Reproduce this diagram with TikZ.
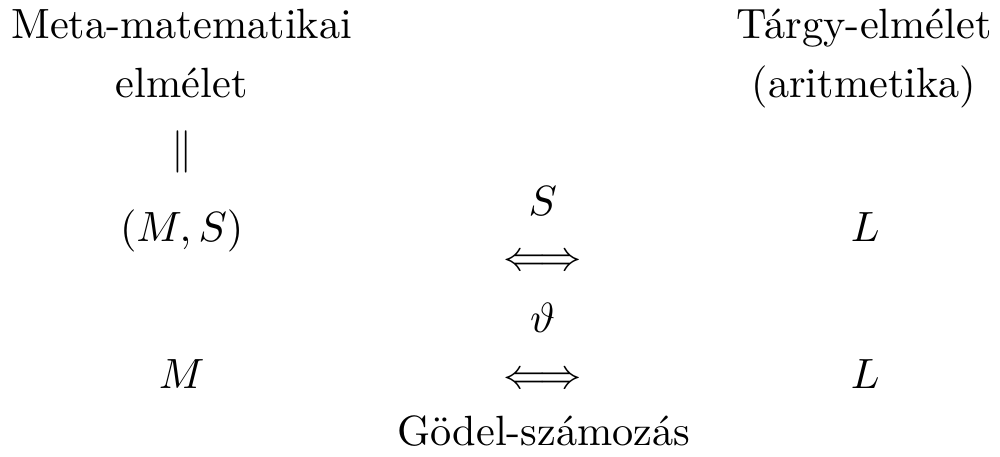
\documentclass[tikz,border=0pt]{standalone}
\tikzset{etq/.style={anchor=base, inner sep=0pt}}

\begin{document}
\begin{tikzpicture}
  \useasboundingbox (0,0) rectangle (8.31,3.79);
  % bal oszlop
  \node[etq] (meta)  at (1.51,3.47)  {Meta-matematikai};
  \node[etq] (elm)   at (1.51,2.98)  {elmélet};
  \node[etq] (egyen) at (1.51,2.44)  {$\|$};
  \node[etq] (ms)    at (1.51,1.78)  {$(M,S)$};
  \node[etq] (m)     at (1.51,0.565) {$M$};
  % jobb oszlop
  \node[etq] (targy) at (7.18,3.47)  {Tárgy-elmélet};
  \node[etq] (arit)  at (7.18,2.98)  {(aritmetika)};
  \node[etq] (l1)    at (7.19,1.78)  {$L$};
  \node[etq] (l2)    at (7.19,0.565) {$L$};
  % kozepso oszlop
  \node[etq] (s)     at (4.51,2.00)  {$S$};
  \node[etq] (nyil1) at (4.51,1.54)  {$\Longleftrightarrow$};
  \node[etq] (theta) at (4.51,1.03)  {$\vartheta$};
  \node[etq] (nyil2) at (4.51,0.565) {$\Longleftrightarrow$};
  \node[etq] (godel) at (4.52,0.09)  {Gödel-számozás};
\end{tikzpicture}
\end{document}
